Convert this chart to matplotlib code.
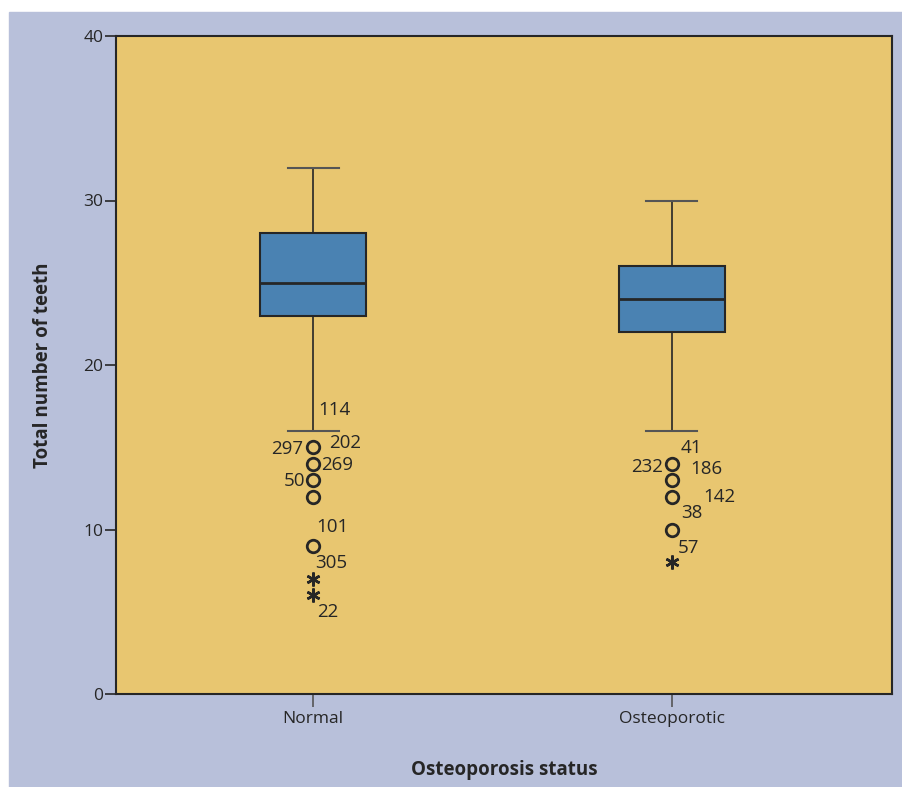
import matplotlib
matplotlib.use("Agg")
import matplotlib.pyplot as plt
from matplotlib.patches import Rectangle

plt.rcParams["font.family"] = ["Open Sans", "DejaVu Sans"]

# ── Data ──────────────────────────────────────────────────────
groups = ["Normal", "Osteoporotic"]
q1 = [23, 22]
median = [25, 24]
q3 = [28, 26]
whisker_lo = [16, 16]
whisker_hi = [32, 30]
outliers = [[15, 14, 13, 12, 9], [14, 13, 12, 10]]
extremes = [[7, 6], [8]]

# case labels: (group index, value, text, offset px, alignment)
case_labels = [
    (0, 16, "114", (5, 21), "left"),
    (0, 15, "297", (-10, -2), "right"),
    (0, 15, "202", (16, 4), "left"),
    (0, 14, "269", (8, -1), "left"),
    (0, 13, "50", (-8, -1), "right"),
    (0, 9, "101", (3, 19), "left"),
    (0, 7, "305", (2, 16), "left"),
    (0, 6, "22", (4, -17), "left"),
    (1, 14, "41", (9, 16), "left"),
    (1, 14, "232", (-9, -3), "right"),
    (1, 14, "186", (18, -5), "left"),
    (1, 12, "142", (31, 0), "left"),
    (1, 12, "38", (9, -16), "left"),
    (1, 8, "57", (6, 14), "left"),
]

BG = "#B8C0DA"
FACE = "#E8C670"
BOX = "#4A82B2"
INK = "#262626"

fig = plt.figure(figsize=(9.03, 7.87), dpi=100, facecolor="white")
fig.patches.append(Rectangle((9 / 903, 0), 1 - 9 / 903, 1 - 12 / 787,
                             transform=fig.transFigure, color=BG, zorder=-10))
ax = fig.add_axes([116 / 903, 93 / 787, 776 / 903, 658 / 787])
ax.set_facecolor(FACE)

positions = [1, 2]
stats = []
for i, g in enumerate(groups):
    stats.append({
        "label": g, "q1": q1[i], "med": median[i], "q3": q3[i],
        "whislo": whisker_lo[i], "whishi": whisker_hi[i], "fliers": outliers[i],
    })

ax.bxp(stats, positions=positions, widths=0.295, patch_artist=True,
       boxprops=dict(facecolor=BOX, edgecolor=INK, linewidth=1.5),
       medianprops=dict(color=INK, linewidth=2),
       whiskerprops=dict(color=INK, linewidth=1.2),
       capprops=dict(color="#555555", linewidth=1.5),
       capwidths=0.142,
       flierprops=dict(marker="o", markersize=9, markerfacecolor="none",
                       markeredgecolor=INK, markeredgewidth=2))

for i, vals in enumerate(extremes):
    ax.plot([positions[i]] * len(vals), vals, linestyle="none",
            marker=(6, 2, 0), markersize=10, markeredgewidth=1.8, color=INK)

for gi, val, txt, off, ha in case_labels:
    ax.annotate(txt, (positions[gi], val), xytext=off, textcoords="offset pixels",
                ha=ha, va="center", fontsize=13.5, color=INK)

ax.set_xlim(0.451, 2.613)
ax.set_ylim(0, 40)
ax.set_yticks([0, 10, 20, 30, 40])
ax.set_xticks(positions)
ax.set_xticklabels(groups)
ax.tick_params(axis="y", length=8, width=1.2, color=INK, labelcolor=INK,
               labelsize=12.5, pad=1)
ax.tick_params(axis="x", length=9, width=1.2, color="#555555", labelcolor=INK,
               labelsize=12.5, pad=3)
for s in ax.spines.values():
    s.set_color(INK)
    s.set_linewidth(1.5)

ax.set_ylabel("Total number of teeth", fontsize=13.5, fontweight="bold",
              color=INK, labelpad=22)
ax.set_xlabel("Osteoporosis status", fontsize=13.5, fontweight="bold",
              color=INK, labelpad=24)

fig.savefig("out.png", dpi=100, facecolor=fig.get_facecolor())
